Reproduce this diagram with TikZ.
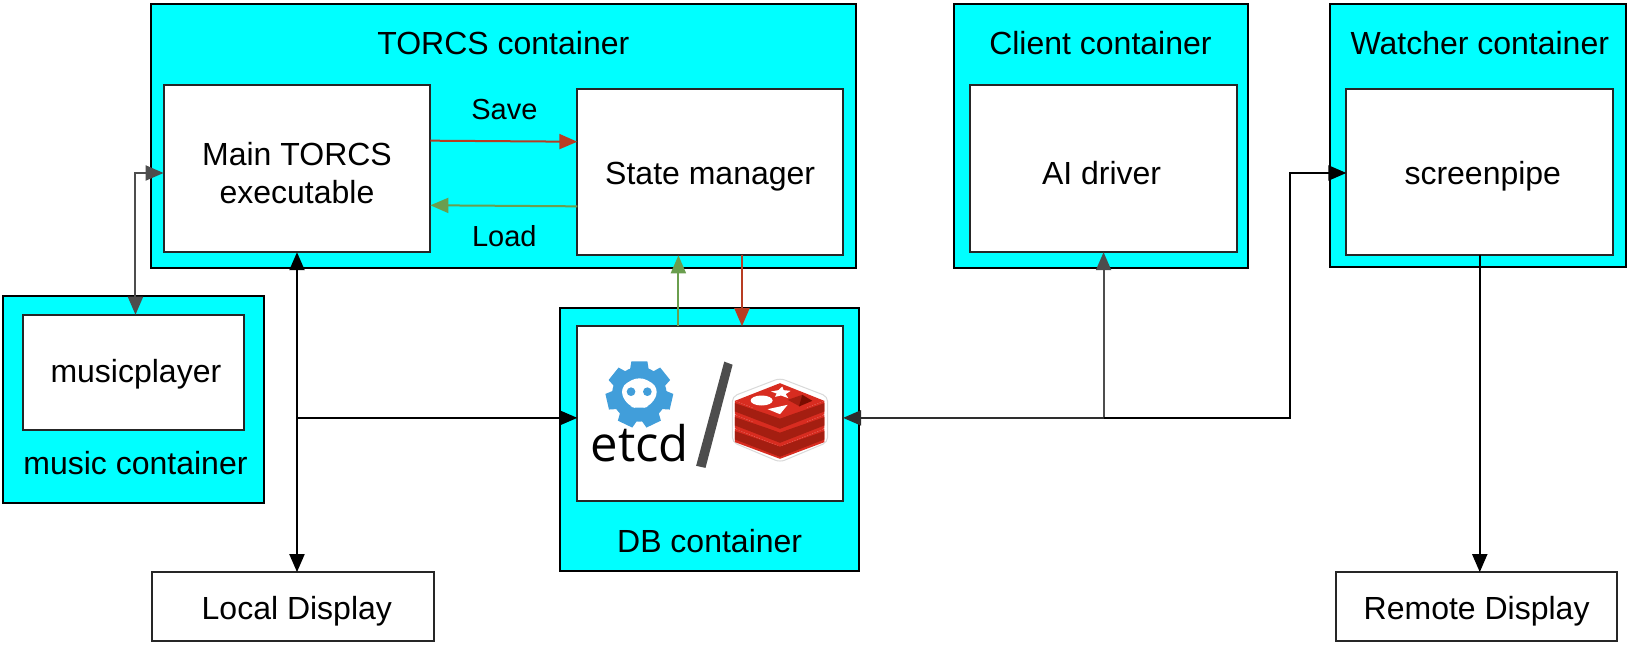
\documentclass[tikz,border=0pt]{standalone}
\usepackage{fontspec}
\setmainfont{Liberation Sans}
\newfontfamily\logofont{Open Sans}
\usetikzlibrary{arrows.meta,calc}
\definecolor{cy}{HTML}{00FFFF}
\definecolor{savered}{HTML}{B83C22}
\definecolor{loadgreen}{HTML}{6A9E4E}
\definecolor{gr}{HTML}{4D4D4D}
\definecolor{etcdblue}{HTML}{419EDA}
\definecolor{redisface}{HTML}{D82C20}
\definecolor{redisside}{HTML}{A41E11}
\definecolor{redisdark}{HTML}{7A0C00}
\tikzset{
  x=1.0421pt,y=-1.0421pt,
  >={Triangle[length=18pt,width=15pt]},
  outerbox/.style={draw=black,line width=2pt,fill=cy,outer sep=0pt},
  innerbox/.style={draw=black!85,line width=2pt,fill=white,outer sep=0pt,align=center,font=\fontsize{32}{38.5}\selectfont},
  lbl/.style={font=\fontsize{32}{38.5}\selectfont,inner sep=0pt,text=black},
  smalllbl/.style={font=\fontsize{29}{36}\selectfont,inner sep=0pt,text=black},
  conn/.style={line width=2pt},
}
\newcommand{\boxat}[7]{\node[#2,minimum width=#5*1.0421pt-#3*1.0421pt,minimum height=#6*1.0421pt-#4*1.0421pt,inner sep=0pt,anchor=north west] (#1) at (#3,#4) {\rule{0pt}{32pt}#7};}
\begin{document}
\begin{tikzpicture}
\useasboundingbox (0,0) rectangle (1568,620.9);
\boxat{torcs}{outerbox}{145}{4}{821}{257}{}
\boxat{client}{outerbox}{915}{4}{1198}{257}{}
\boxat{watcher}{outerbox}{1276}{4}{1560}{256}{}
\boxat{music}{outerbox}{3}{284}{253}{483}{}
\boxat{db}{outerbox}{537}{296}{824}{548}{}
\boxat{main}{innerbox}{157}{82}{413}{242}{Main TORCS\\executable}
\boxat{state}{innerbox}{554}{85}{809}{245}{State manager}
\boxat{ai}{innerbox}{931}{82}{1187}{242}{\hspace*{-4pt}AI driver}
\boxat{screen}{innerbox}{1292}{85}{1548}{245}{\hspace*{6pt}screenpipe}
\boxat{player}{innerbox}{22}{302}{234}{413}{\hspace*{5pt}\raisebox{5pt}{musicplayer}}
\boxat{store}{innerbox}{554}{313}{809}{481}{}
\boxat{local}{innerbox}{146}{549}{416}{615}{\hspace*{8pt}Local Display}
\boxat{remote}{innerbox}{1282}{549}{1552}{615}{Remote Display}
\node[lbl] (t1) at (483,41) {TORCS container};
\node[lbl] (t2) at (1056,41) {Client container};
\node[lbl] (t3) at (1420,41) {Watcher container};
\node[lbl] (t4) at (130,444) {music container};
\node[lbl] (t5) at (681,519) {DB container};
\node[smalllbl] (t6) at (484,105) {Save};
\node[smalllbl] (t7) at (484,227) {Load};
% etcd logo, in units of the 3x crop
\begin{scope}[shift={(566.2,340.7)},x=0.3333pt,y=-0.3333pt]
  \fill[etcdblue] (148,118) circle (82);
  \foreach \a in {-25.7,-77.1,-128.6,180,128.6,77.1,25.7}
    \fill[etcdblue,shift={(148,118)},rotate=\a] (-28,75) -- (-24,99) -- (24,99) -- (28,75) -- cycle;
  \fill[white,rounded corners=9pt] (148,62) -- (208,97) -- (186,152) -- (148,162) -- (110,152) -- (88,97) -- cycle;
  \fill[etcdblue] (123,110) circle (13);
  \fill[etcdblue] (172,110) circle (13);
\end{scope}
\node[inner sep=0pt,anchor=base,font=\logofont\fontsize{49}{49}\selectfont] (etcdtext) at (614,442.5) {etcd};
\fill[gr] (695,347) -- (703,350) -- (677,449) -- (668,447) -- cycle;
% redis logo, in units of the 3x crop
\begin{scope}[shift={(695.7,356.5)},x=0.3333pt,y=-0.3333pt]
  \fill[white,draw=black!15,line width=1pt,rounded corners=5pt] (22,75) -- (165,20) -- (308,75) -- (308,212) -- (165,272) -- (22,212) -- cycle;
  \foreach \d in {84,42,0}{
    \fill[redisface] (30,\d+88) -- (165,\d+141) -- (298,\d+88) -- (298,\d+128) -- (165,\d+178) -- (30,\d+128) -- cycle;
    \fill[redisside] (30,\d+95) -- (165,\d+141) -- (298,\d+95) -- (298,\d+120) -- (165,\d+172) -- (30,\d+120) -- cycle;
    \fill[redisface] (30,\d+88) -- (165,\d+35) -- (298,\d+88) -- (165,\d+141) -- cycle;
  }
  \fill[white] (110,87) ellipse (33 and 15);
  \fill[white] (172,45) -- (176,56) -- (197,58) -- (182,68) -- (190,80) -- (168,72) -- (150,76) -- (155,66) -- (138,60) -- (160,56) -- cycle;
  \fill[white] (128,113) -- (188,100) -- (165,128) -- cycle;
  \fill[redisside] (188,85) -- (232,70) -- (225,105) -- cycle;
  \fill[redisdark] (232,70) -- (262,88) -- (222,105) -- cycle;
\end{scope}
% junctions
\coordinate (busL) at (285,401);
\coordinate (busR) at (1059,401);
\coordinate (busC) at (1238,401);
\coordinate (busT) at (1238,166);
\coordinate (mm) at (130,166);
\coordinate (colG) at (651,0);
\coordinate (colR) at (712,0);
\coordinate (colW) at (1420,0);
\coordinate (rowS) at (0,135);
\coordinate (rowS2) at (0,136);
\coordinate (rowL) at (0,198);
\coordinate (rowL2) at (0,197);
% connectors
\draw[conn,savered,->] (main.east |- rowS) -- (state.west |- rowS2);
\draw[conn,loadgreen,->] (state.west |- rowL) -- (main.east |- rowL2);
\draw[conn,loadgreen,->] (colG |- store.north) -- (colG |- state.south);
\draw[conn,savered,->] (colR |- state.south) -- (colR |- store.north);
\draw[conn,gr,<->] (main.west |- mm) -- (mm) -- (mm |- player.north);
\draw[conn,black,<->] (busL |- main.south) -- (busL |- local.north);
\draw[conn,black,->] (busL) -- (store.west |- busL);
\draw[conn,gr,->] (busR) -- (busR |- ai.south);
\draw[conn,gr!60!black,<-] (store.east |- busR) -- (busR);
\draw[conn,black,->] (busR) -- (busC) -- (busT) -- (screen.west |- busT);
\draw[conn,black,->] (colW |- screen.south) -- (colW |- remote.north);
\end{tikzpicture}
\end{document}
